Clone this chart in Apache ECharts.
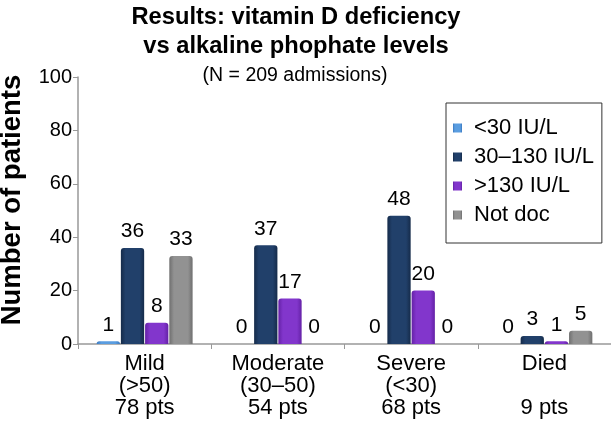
<!DOCTYPE html>
<html>
<head>
<meta charset="utf-8">
<script src="https://cdn.jsdelivr.net/npm/echarts@6/dist/echarts.min.js"></script>
<style>html,body{margin:0;padding:0;background:#fff;}#c{width:611px;height:432px;}</style>
</head>
<body>
<div id="c"></div>
<script>
const categories = ['Mild\n(>50)\n78 pts', 'Moderate\n(30–50)\n54 pts', 'Severe\n(<30)\n68 pts', 'Died\n\n9 pts'];
const seriesNames = ['<30 IU/L', '30–130 IU/L', '>130 IU/L', 'Not doc'];
const below30 = [1, 0, 0, 0];
const mid30to130 = [36, 37, 48, 3];
const above130 = [8, 17, 20, 1];
const notDoc = [33, 0, 0, 5];
const yTicks = [0, 20, 40, 60, 80, 100];

const chart = echarts.init(document.getElementById('c'), null, {renderer: 'canvas'});
const FONT = 'Liberation Sans, Arial, Helvetica, sans-serif';

function grad(edge, mid) {
  return new echarts.graphic.LinearGradient(0, 0, 1, 0, [
    {offset: 0, color: edge}, {offset: 0.2, color: mid}, {offset: 0.8, color: mid}, {offset: 1, color: edge}
  ]);
}
const styles = [
  {c: '#4d8fd6', g: grad('#3a78c0', '#5a9de0')},
  {c: '#1f3b62', g: grad('#152b4a', '#21406a')},
  {c: '#7a2fc2', g: grad('#6421a6', '#8236cc')},
  {c: '#8a8a8a', g: grad('#6f6f6f', '#929292')}
];
const dataSets = [below30, mid30to130, above130, notDoc];

const series = dataSets.map((d, i) => ({
  name: seriesNames[i],
  type: 'bar',
  data: d,
  barGap: '4%',
  barCategoryGap: '28%',
  color: styles[i].c,
  itemStyle: {color: styles[i].g, borderRadius: [3, 3, 0, 0]},
  label: {show: true, position: 'top', distance: 6, color: '#000', fontSize: 21, fontFamily: FONT}
}));

chart.setOption({
  animation: false,
  backgroundColor: '#fff',
  graphic: [
    {type: 'text', x: 296, y: 3, style: {
      text: 'Results: vitamin D deficiency\nvs alkaline phophate levels',
      font: 'bold 23.7px ' + FONT, fill: '#000', textAlign: 'center', textVerticalAlign: 'top', lineHeight: 29
    }},
    {type: 'text', x: 295, y: 66, style: {
      text: '(N = 209 admissions)', font: '19.5px ' + FONT, fill: '#000', textAlign: 'center', textVerticalAlign: 'top'
    }}
  ],
  legend: {
    orient: 'vertical',
    left: 446, top: 103,
    padding: [14, 8, 17, 7],
    borderColor: '#333', borderWidth: 1,
    itemWidth: 9, itemHeight: 9, itemGap: 7,
    icon: 'rect',
    textStyle: {fontSize: 22, fontFamily: FONT, color: '#000', padding: [0, 0, 0, 7]},
    data: seriesNames
  },
  grid: {left: 78, right: 0, top: 77, bottom: 88, containLabel: false, outerBoundsMode: 'none'},
  xAxis: {
    type: 'category',
    data: categories,
    axisLine: {lineStyle: {color: '#999', width: 1.5}},
    axisTick: {show: true, length: 5, lineStyle: {color: '#999'}},
    axisLabel: {color: '#000', fontSize: 22, fontFamily: FONT, lineHeight: 22, margin: 9, interval: 0}
  },
  yAxis: {
    type: 'value',
    min: yTicks[0], max: yTicks[yTicks.length - 1], interval: 20,
    name: 'Number of patients',
    nameLocation: 'middle',
    nameGap: 52,
    nameTextStyle: {fontSize: 27.5, fontWeight: 'bold', fontFamily: FONT, color: '#000', padding: [0, 0, 0, 21]},
    axisLine: {show: true, lineStyle: {color: '#999', width: 1.5}},
    axisTick: {show: true, length: 5, lineStyle: {color: '#999'}},
    axisLabel: {color: '#000', fontSize: 20, fontFamily: FONT, margin: 6},
    splitLine: {show: false}
  },
  series: series
});
</script>
</body>
</html>
